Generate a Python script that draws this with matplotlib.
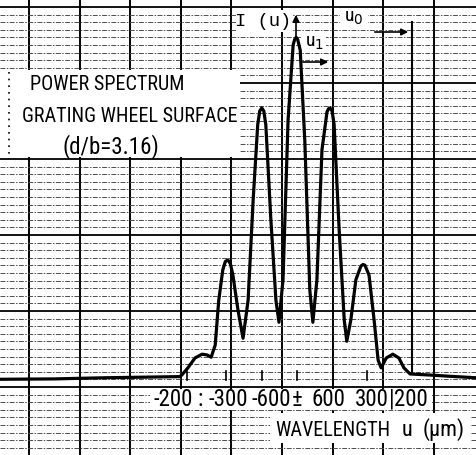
import matplotlib.pyplot as plt
from matplotlib.patches import Rectangle

# recorder trace: position in paper divisions, intensity in minor divisions
u_div = [-0.57, 0.5, 1.5, 2.5, 2.98, 3.02, 3.14, 3.28, 3.42, 3.52, 3.60, 3.68,
         3.75, 3.83, 3.88, 3.93, 3.98, 4.03, 4.13, 4.23, 4.33, 4.43, 4.52,
         4.56, 4.60, 4.64, 4.68, 4.78, 4.88, 4.94, 5.02, 5.12, 5.22, 5.25,
         5.28, 5.31, 5.36, 5.45, 5.55, 5.61, 5.69, 5.79, 5.89, 5.92, 5.95,
         5.99, 6.03, 6.13, 6.23, 6.28, 6.36, 6.46, 6.56, 6.60, 6.64, 6.72,
         6.82, 6.90, 6.96, 7.06, 7.19, 7.31, 7.41, 7.53, 7.92, 8.3, 8.83]
intensity = [-0.3, -0.25, -0.1, 0.0, 0.05, 0.26, 1.2, 2.5, 3.0, 2.9, 2.6, 4.2,
             10.1, 14.1, 15.2, 15.4, 14.9, 13.4, 8.8, 5.1, 10.1, 23.3, 33.2,
             35.0, 35.4, 35.0, 33.2, 20.7, 10.1, 7.2, 12.8, 33.8, 43.7, 44.4,
             44.7, 44.4, 43.0, 31.2, 11.4, 7.2, 12.8, 29.9, 34.9, 35.3, 35.4,
             35.0, 33.2, 19.3, 7.5, 4.7, 7.5, 12.8, 14.6, 14.8, 14.7, 13.4,
             7.5, 2.2, 1.2, 2.5, 3.0, 2.5, 1.2, 0.4, 0.26, 0.1, -0.1]

# wavelength markings under the trace (um)
wl_labels = ['-200', ':', '-300', '-600', '±', '600', '300', '|', '200']
wl_pos = [2.85, 3.38, 3.93, 4.78, 5.30, 5.91, 6.78, 7.17, 7.55]
tick_div = [3.12, 3.89, 4.60, 5.30, 6.01, 6.68]

W, H = 476, 455
X0, DX = 29, 50.6      # first vertical rule and spacing (px)
Y0, DY = 377, 7.6      # zero line and minor spacing (px)

narrow = ['Roboto Condensed', 'Liberation Sans Narrow', 'Liberation Sans', 'DejaVu Sans']
mono = ['Liberation Mono', 'DejaVu Sans Mono']


def fx(p):
    return p / W


def fy(p):
    return 1 - p / H


fig = plt.figure(figsize=(W / 100, H / 100), dpi=100)
ax = fig.add_axes([0, 0, 1, 1])
ax.set_xlim(-X0 / DX, (W - X0) / DX)
ax.set_ylim((Y0 - H) / DY, Y0 / DY)
ax.axis('off')

# chart paper
for k in range(9):
    ax.axvline(k, color='k', lw=1.4, zorder=1)
top = (Y0 - 7) / DY
for j in range(60):
    y = top - j
    if j % 10 == 0:
        ax.axhline(y, color='k', lw=1.3, zorder=1)
    else:
        ax.axhline(y, color='0.3', lw=0.7, ls=(0, (5, 1.5, 1.5, 1.5)), zorder=1)

# white label patches
for x, y, w, h in [(0, 70, 240, 87), (150, 389, 282, 21), (270, 413, 200, 30),
                   (236, 10, 56, 22), (340, 10, 28, 18), (302, 33, 24, 19)]:
    ax.add_patch(Rectangle((fx(x), fy(y + h)), w / W, h / H, transform=fig.transFigure,
                           facecolor='white', edgecolor='none', zorder=2))
ax.plot([fx(9), fx(9)], [fy(72), fy(155)], transform=fig.transFigure,
        color='k', lw=1.2, ls=(0, (1, 3)), zorder=3)

# trace
ax.plot(u_div, intensity, color='k', lw=2.3, solid_joinstyle='round',
        solid_capstyle='round', zorder=4)
for t in tick_div:
    ax.plot([t, t], [-0.4, 0.8], color='k', lw=1.2, zorder=4)

# marker lines for I(u), u0 and u1
ax.plot([fx(412), fx(412)], [fy(22), fy(372)], transform=fig.transFigure,
        color='k', lw=1.5, zorder=3)
arrow = dict(arrowstyle='-|>', color='k', lw=1.2, mutation_scale=10)
ax.annotate('', xy=(fx(296), fy(12)), xytext=(fx(296), fy(40)),
            xycoords=fig.transFigure, textcoords=fig.transFigure, arrowprops=arrow, zorder=5)
ax.annotate('', xy=(fx(331), fy(62)), xytext=(fx(300), fy(62)),
            xycoords=fig.transFigure, textcoords=fig.transFigure, arrowprops=arrow, zorder=5)
ax.annotate('', xy=(fx(411), fy(32)), xytext=(fx(372), fy(32)),
            xycoords=fig.transFigure, textcoords=fig.transFigure, arrowprops=arrow, zorder=5)

# captions
tk = dict(transform=fig.transFigure, family=narrow, color='k', zorder=6)
fig.text(fx(30), fy(85), 'POWER SPECTRUM', fontsize=14.5, va='center', ha='left', **tk)
fig.text(fx(22), fy(117), 'GRATING WHEEL SURFACE', fontsize=14.5, va='center', ha='left', **tk)
fig.text(fx(62), fy(147), '(d/b=3.16)', fontsize=16.5, va='center', ha='left', **tk)
fig.text(fx(263), fy(21), 'I (u)', fontsize=13.5, va='center', ha='center',
         transform=fig.transFigure, family=mono, zorder=6)
fig.text(fx(354), fy(18), 'u$_0$', fontsize=14, va='center', ha='center', **tk)
fig.text(fx(314), fy(43), 'u$_1$', fontsize=14, va='center', ha='center', **tk)
for lab, p in zip(wl_labels, wl_pos):
    ax.text(p, (Y0 - 399) / DY, lab, fontsize=16.5, va='center', ha='center',
            family=narrow, zorder=6)
fig.text(fx(275), fy(430), 'WAVELENGTH', fontsize=14.5, va='center', ha='left', **tk)
fig.text(fx(407), fy(430), 'u', fontsize=16, va='center', ha='center', **tk)
fig.text(fx(444), fy(430), '(μm)', fontsize=16, va='center', ha='center', **tk)

fig.savefig('out.png', dpi=100, facecolor='white')
